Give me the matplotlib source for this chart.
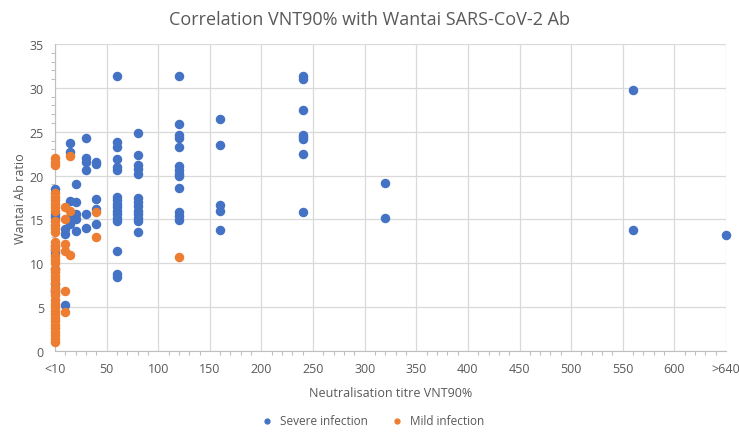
# Correlation of VNT90% neutralisation titre with Wantai SARS-CoV-2 Ab ratio
import numpy as np
from matplotlib import pyplot as plt

plt.rcParams['font.family'] = ['Open Sans', 'DejaVu Sans']

# severe infection: titre and Ab ratio (650 = ">640")
severe_x = ([0]*10 + [10]*3 + [15]*5 + [20]*5 + [30]*6 + [40]*5 + [60]*17
            + [80]*13 + [120]*13 + [160]*5 + [240]*8 + [320]*2 + [560]*2 + [650])
severe_y = [18.5, 15.6, 15.3, 12.0, 11.5, 11.2, 9.3, 7.6, 7.0, 6.7,
            13.9, 13.3, 5.2,
            23.7, 22.7, 17.1, 15.3, 14.5,
            19.0, 17.0, 15.6, 15.0, 13.7,
            24.3, 22.0, 21.6, 20.6, 15.6, 14.0,
            21.5, 21.3, 17.3, 16.2, 14.5,
            31.3, 23.8, 23.3, 21.9, 21.0, 20.6, 17.6, 17.2, 16.8, 16.4, 16.0,
            15.6, 15.2, 14.8, 11.4, 8.8, 8.5,
            24.9, 22.3, 21.2, 20.7, 20.2, 17.5, 17.0, 16.5, 16.0, 15.6, 15.2,
            14.8, 13.6,
            31.3, 25.9, 24.6, 24.3, 23.3, 21.1, 20.6, 20.2, 20.0, 18.6, 15.8,
            15.4, 14.9,
            26.5, 23.5, 16.6, 16.0, 13.8,
            31.3, 31.0, 27.5, 24.6, 24.4, 24.2, 22.5, 15.8,
            19.1, 15.2,
            29.8, 13.8,
            13.2]

# mild infection
mild_y0 = [22.0, 21.6, 21.2, 18.0, 17.6, 17.2, 16.8, 16.4, 16.0, 14.8, 14.4,
           14.0, 13.6, 12.4, 12.0, 11.6, 10.8, 10.4, 10.0, 9.4, 9.0, 8.6, 8.2,
           7.8, 7.2, 6.8, 6.4, 5.8, 5.4, 5.0, 4.6, 4.2, 3.8, 3.4, 3.0, 2.6,
           2.2, 1.8, 1.4, 1.0]
mild_x = [0]*len(mild_y0) + [10]*6 + [15]*3 + [40]*2 + [120]
mild_y = mild_y0 + [16.4, 15.1, 12.2, 11.4, 6.9, 4.4,
                    22.2, 16.0, 10.9,
                    15.8, 13.0,
                    10.7]

xticks = list(range(0, 651, 50))
xlabels = ['<10'] + [str(v) for v in range(50, 601, 50)] + ['>640']

grey = '#595959'
fig = plt.figure(figsize=(7.39, 4.39), dpi=100)
ax = fig.add_axes([0.0744, 0.198, 0.908, 0.6995])

ax.scatter(severe_x, severe_y, s=34, color='#4472C4', label='Severe infection',
           zorder=3, clip_on=False)
ax.scatter(mild_x, mild_y, s=34, color='#ED7D31', label='Mild infection',
           zorder=4, clip_on=False)

ax.set_xlim(0, 650)
ax.set_ylim(0, 35)
ax.set_xticks(xticks)
ax.set_xticklabels(xlabels)
ax.set_yticks(range(0, 36, 5))
ax.set_xticks(range(0, 651, 10), minor=True)
ax.set_yticks(range(0, 36, 1), minor=True)
ax.grid(True, which='major', color='#d9d9d9', linewidth=0.9)
ax.set_axisbelow(True)
ax.tick_params(which='major', length=0, labelsize=9, labelcolor=grey, pad=8)
ax.tick_params(which='minor', length=3, color='#bfbfbf', width=0.8)
for side in ['top', 'right']:
    ax.spines[side].set_visible(False)
for side in ['left', 'bottom']:
    ax.spines[side].set_color('#bfbfbf')

ax.set_xlabel('Neutralisation titre VNT90%', fontsize=9, color=grey, labelpad=8)
ax.set_ylabel('Wantai Ab ratio', fontsize=9, color=grey, labelpad=2)
fig.suptitle('Correlation VNT90% with Wantai SARS-CoV-2 Ab', y=0.975,
             fontsize=13, color=grey)

fig.legend(loc='lower center', bbox_to_anchor=(0.5, 0.0), ncol=2, frameon=False,
           fontsize=8.5, labelcolor=grey, markerscale=0.6, handletextpad=0.1,
           columnspacing=1.5)

plt.savefig('out.png', dpi=100)
